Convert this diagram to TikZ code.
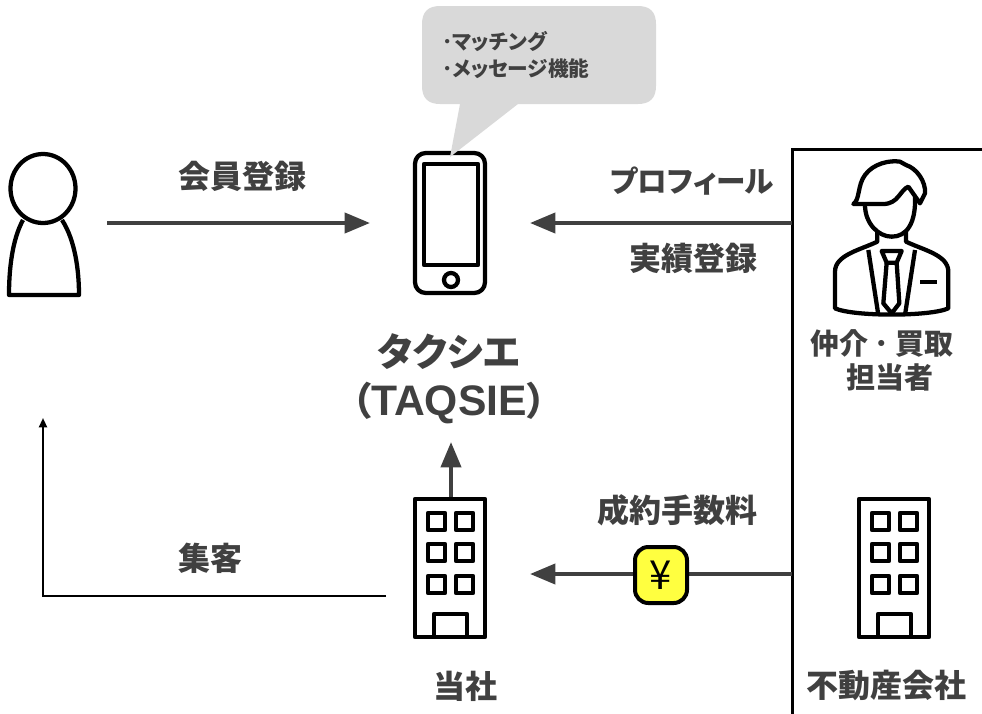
\documentclass[tikz,border=0pt]{standalone}
\usepackage{fontspec}
\setmainfont{Liberation Sans}
\newfontfamily\jp[RawFeature=+palt]{Noto Sans CJK JP}
\usetikzlibrary{arrows.meta}
\definecolor{txt}{HTML}{404040}
\definecolor{bub}{HTML}{D9D9D9}
\definecolor{yen}{HTML}{FFFF40}
\tikzset{
  icon/.style={draw=black,line width=3.2pt,line join=round},
  thick arrow/.style={draw=txt,line width=3pt,-{Triangle[length=19pt,width=15pt]}},
  thin arrow/.style={draw=black,line width=1.5pt,-{Triangle[length=7pt,width=6pt]}},
  lbl/.style={text=txt,font=\jp\bfseries\fontsize{24}{28}\selectfont,inner sep=0pt,align=center},
  sublbl/.style={text=txt,font=\jp\bfseries\fontsize{21.75}{26}\selectfont,inner sep=0pt,align=center},
  biglbl/.style={text=txt,font=\jp\bfseries\fontsize{29}{34}\selectfont,inner sep=0pt,align=center},
  bublbl/.style={text=txt,font=\jp\bfseries\fontsize{15.5}{18}\selectfont,inner sep=0pt,anchor=west},
  badge/.style={draw=black,fill=yen,line width=3pt,rounded corners=10pt,minimum width=39pt,minimum height=42pt,inner sep=0pt,font=\jp\fontsize{30}{30}\selectfont}
}
\newcommand{\towerat}[2]{%
  \begin{scope}[shift={(#1,#2)}]
    \draw[icon] (2,2) rectangle (72,140);
    \foreach \xx in {15,43}\foreach \yy in {16,47,79}
      \draw[icon] (\xx,\yy) rectangle +(17,17);
    \draw[icon] (21,117) rectangle (54,140);
  \end{scope}}
\begin{document}
\begin{tikzpicture}[x=.75pt,y=-.75pt]
\useasboundingbox (0,0) rectangle (982,714);
% named anchors
\coordinate (userout) at (107,223);
\coordinate (phonein) at (370,223);
\coordinate (agentout) at (792,223);
\coordinate (phoneinr) at (530,223);
\coordinate (towerin) at (530,574);
\coordinate (estateout) at (792,574);
\coordinate (towertop) at (451,497);
\coordinate (nametail) at (451,442);
\coordinate (leadout) at (386,596);
\coordinate (leadcorner) at (43,596);
\coordinate (leadend) at (43,418);
% frame
\draw[black,line width=2.25pt] (792,714) -- (792,149) -- (982,149);
% person
\draw[icon] (43,188.5) ellipse[x radius=32.5,y radius=34.5];
\draw[icon] (23,220) .. controls (12,240) and (9,270) .. (9,295) -- (79,295) .. controls (79,270) and (75,240) .. (62,220);
% phone
\draw[icon,rounded corners=8pt] (415,153) rectangle (485,293);
\draw[icon] (424,164) rectangle (478,265);
\draw[icon] (451,280) circle (7);
% bubble
\fill[bub] (440,6) -- (638,6) .. controls (650,6) and (656,12) .. (656,24) -- (656,86) .. controls (656,98) and (650,104) .. (638,104) -- (518,104) -- (450,157) -- (460,104) -- (440,104) .. controls (428,104) and (422,98) .. (422,86) -- (422,24) .. controls (422,12) and (428,6) .. (440,6) -- cycle;
\node[bublbl] (b1) at (442,41) {･マッチング};
\node[bublbl] (b2) at (442,69) {･メッセージ機能};
% man
\begin{scope}[shift={(800,140)},x=.25pt,y=-.25pt]
  \draw[icon] (160,192) .. controls (180,180) and (172,135) .. (195,105) .. controls (220,70) and (270,60) .. (300,65) -- (318,75) .. controls (350,85) and (378,125) .. (375,160) -- (360,190) -- (325,140) .. controls (300,150) and (295,192) .. (250,192) -- cycle;
  \draw[icon] (195,195) .. controls (195,250) and (235,290) .. (275,290) .. controls (320,290) and (348,250) .. (345,170);
  \draw[icon] (232,275) -- (232,305) .. controls (180,330) and (105,345) .. (105,395) -- (105,505) .. controls (160,530) and (390,530) .. (445,505) -- (445,395) .. controls (445,345) and (370,330) .. (318,305) -- (318,275);
  \draw[icon] (205,330) -- (235,525);
  \draw[icon] (345,330) -- (315,525);
  \draw[icon] (245,333) -- (305,333) -- (290,368) -- (260,368) -- cycle;
  \draw[icon] (260,368) -- (250,490) -- (275,520) -- (298,490) -- (290,368);
  \draw[icon] (360,426) -- (410,426);
\end{scope}
% towers
\towerat{413}{497}
\towerat{857}{497}
% connectors
\draw[thick arrow] (userout) -- (phonein);
\draw[thick arrow] (agentout) -- (phoneinr);
\draw[thick arrow] (estateout) -- (towerin);
\draw[thick arrow] (towertop) -- (nametail);
\draw[thin arrow] (leadout) -- (leadcorner) -- (leadend);
\node[badge] (fee) at (661,575) {¥};
% labels
\node[lbl] (l1) at (242,176) {会員登録};
\node[lbl,font=\jp\bfseries\fontsize{22.2}{28}\selectfont] (l2) at (692,181) {プロフィール};
\node[lbl] (l3) at (693,258) {実績登録};
\node[biglbl] (l4) at (449,352) {タクシエ};
\node[biglbl] (l5) at (449,403) {（{\rmfamily\bfseries\fontsize{32}{34}\selectfont TAQSIE}）};
\node[sublbl] (l6) at (882,343) {仲介\hspace{5pt}･\hspace{5pt}買取};
\node[sublbl] (l7) at (890,377) {担当者};
\node[lbl] (l8) at (677,510) {成約手数料};
\node[lbl] (l9) at (210,558) {集客};
\node[lbl] (l10) at (465,686) {当社};
\node[lbl] (l11) at (886,685) {不動産会社};
\end{tikzpicture}
\end{document}
